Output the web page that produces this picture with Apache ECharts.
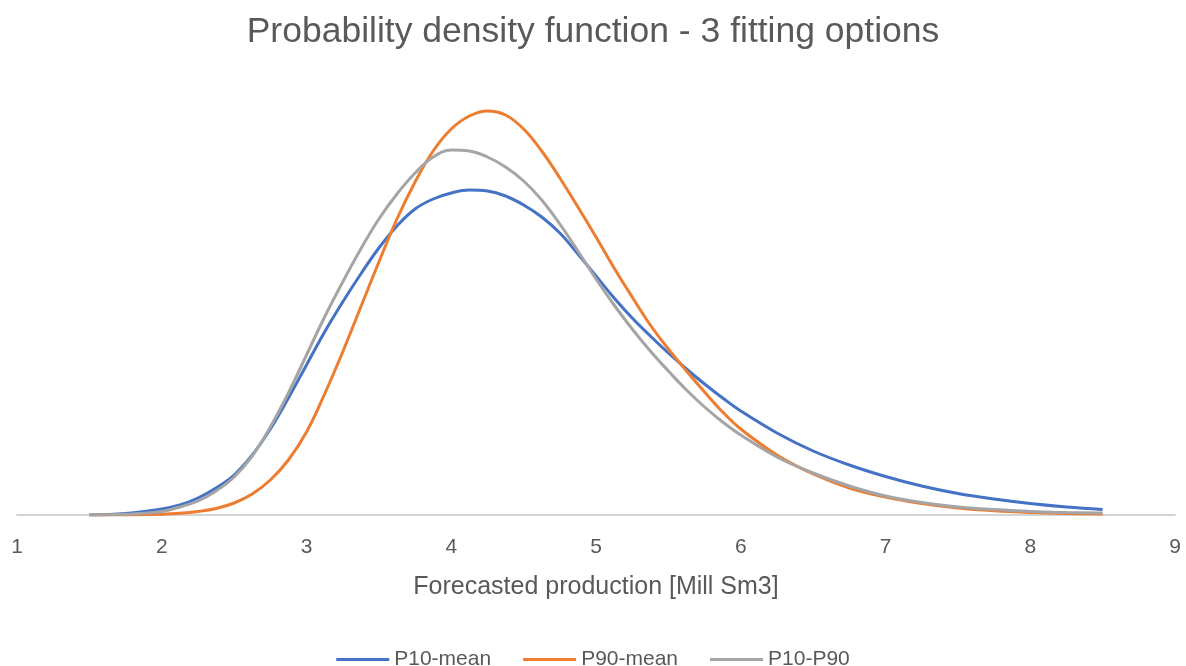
<!DOCTYPE html>
<html>
<head>
<meta charset="utf-8">
<script src="https://cdn.jsdelivr.net/npm/echarts@6/dist/echarts.min.js"></script>
<style>
  html, body { margin: 0; padding: 0; background: #fff; }
  #chart { width: 1186px; height: 666px; }
</style>
</head>
<body>
<div id="chart"></div>
<script>
// forecasted production [Mill Sm3]
const xs = [1.5, 1.75,
  2, 2.125, 2.25, 2.375, 2.5, 2.625, 2.75, 2.875,
  3, 3.125, 3.25, 3.375, 3.5, 3.625, 3.75, 3.875,
  4, 4.125, 4.25, 4.375, 4.5, 4.625, 4.75, 4.875,
  5, 5.125, 5.25, 5.375, 5.5, 5.625, 5.75, 5.875,
  6, 6.25, 6.5, 6.75, 7, 7.25, 7.5, 7.75, 8, 8.25, 8.5]

// density
const p10Mean = [0, 0.0015,
  0.006, 0.010, 0.017, 0.027, 0.040, 0.060, 0.086, 0.117,
  0.150, 0.183, 0.213, 0.241, 0.267, 0.289, 0.306, 0.316,
  0.322, 0.325, 0.324, 0.319, 0.310, 0.298, 0.282, 0.261,
  0.239, 0.217, 0.197, 0.179, 0.162, 0.146, 0.131, 0.117,
  0.104, 0.082, 0.064, 0.050, 0.0385, 0.029, 0.0215, 0.016, 0.0115, 0.008, 0.0055]
const p90Mean = [0, 0,
  0.0007, 0.0017, 0.0035, 0.0065, 0.012, 0.021, 0.035, 0.055,
  0.083, 0.121, 0.163, 0.208, 0.253, 0.296, 0.333, 0.364,
  0.386, 0.399, 0.404, 0.400, 0.386, 0.364, 0.337, 0.308,
  0.278, 0.247, 0.218, 0.190, 0.166, 0.144, 0.123, 0.103,
  0.086, 0.060, 0.041, 0.027, 0.018, 0.0115, 0.007, 0.0042, 0.0025, 0.0015, 0.001]
const p10P90 = [0, 0.0008,
  0.0035, 0.008, 0.014, 0.024, 0.038, 0.059, 0.088, 0.122,
  0.160, 0.198, 0.233, 0.266, 0.296, 0.321, 0.342, 0.358,
  0.365, 0.364, 0.358, 0.348, 0.334, 0.315, 0.291, 0.264,
  0.236, 0.210, 0.186, 0.164, 0.144, 0.125, 0.108, 0.093,
  0.080, 0.058, 0.042, 0.029, 0.019, 0.0125, 0.008, 0.0055, 0.0035, 0.0025, 0.002]

const xTicks = [1, 2, 3, 4, 5, 6, 7, 8, 9]

const font = 'Liberation Sans'
const textColor = '#595959'
const pairs = ys => xs.map((x, i) => [x, ys[i]])

const lineSeries = (name, ys, color) => ({
  name: name,
  type: 'line',
  data: pairs(ys),
  smooth: 0.4,
  showSymbol: false,
  symbol: 'none',
  lineStyle: { color: color, width: 3 },
  itemStyle: { color: color }
})

const chart = echarts.init(document.getElementById('chart'))
chart.setOption({
  animation: false,
  title: {
    text: 'Probability density function - 3 fitting options',
    left: 'center',
    top: 9,
    textStyle: { fontFamily: font, fontSize: 35.5, fontWeight: 'normal', color: textColor }
  },
  legend: {
    top: 644,
    left: 'center',
    icon: 'rect',
    itemWidth: 53,
    itemHeight: 3,
    itemGap: 32,
    textStyle: { fontFamily: font, fontSize: 21, color: textColor },
    data: ['P10-mean', 'P90-mean', 'P10-P90']
  },
  grid: {
    left: 17,
    right: 11,
    top: 85,
    bottom: 151
  },
  xAxis: {
    type: 'value',
    min: xTicks[0],
    max: xTicks[xTicks.length - 1],
    interval: 1,
    name: 'Forecasted production [Mill Sm3]',
    nameLocation: 'middle',
    nameGap: 60,
    nameTextStyle: { fontFamily: font, fontSize: 25, color: textColor },
    axisLine: { lineStyle: { color: '#c8c8c8', width: 1.5 } },
    axisTick: { show: false },
    splitLine: { show: false },
    axisLabel: { fontFamily: font, fontSize: 21, color: textColor, margin: 22 }
  },
  yAxis: {
    type: 'value',
    min: 0,
    max: 0.43,
    show: false,
    splitLine: { show: false }
  },
  series: [
    lineSeries('P10-mean', p10Mean, '#4472C4'),
    lineSeries('P90-mean', p90Mean, '#ED7D31'),
    lineSeries('P10-P90', p10P90, '#A5A5A5')
  ]
})
</script>
</body>
</html>
